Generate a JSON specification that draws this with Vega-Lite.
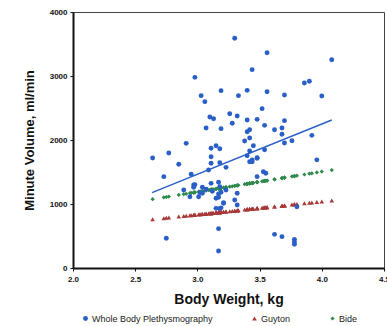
{
  "$schema": "https://vega.github.io/schema/vega-lite/v6.json",
  "width": 311,
  "height": 256,
  "autosize": {"type": "none"},
  "padding": {"left": 73, "top": 12, "right": 3, "bottom": 58},
  "background": "white",
  "config": {
    "font": "Liberation Sans",
    "view": {"stroke": "#444", "strokeWidth": 1},
    "axis": {
      "grid": false,
      "domainColor": "#111",
      "domainWidth": 2,
      "tickColor": "#111",
      "tickSize": 3,
      "labelFont": "Liberation Sans",
      "labelFontWeight": "bold",
      "labelFontSize": 8,
      "labelColor": "#111",
      "titleFont": "Liberation Sans",
      "titleFontWeight": "bold",
      "titleColor": "#111"
    }
  },
  "datasets": {
    "pts": [
      {"w":3.30,"Whole Body Plethysmography":3589,"Guyton":896,"Bide":1284},
      {"w":3.56,"Whole Body Plethysmography":3364,"Guyton":950,"Bide":1366},
      {"w":4.08,"Whole Body Plethysmography":3255,"Guyton":1056,"Bide":1531},
      {"w":2.98,"Whole Body Plethysmography":2979,"Guyton":831,"Bide":1182},
      {"w":3.44,"Whole Body Plethysmography":3099,"Guyton":925,"Bide":1328},
      {"w":3.19,"Whole Body Plethysmography":2771,"Guyton":874,"Bide":1249},
      {"w":3.40,"Whole Body Plethysmography":2776,"Guyton":917,"Bide":1316},
      {"w":3.56,"Whole Body Plethysmography":2755,"Guyton":950,"Bide":1366},
      {"w":3.33,"Whole Body Plethysmography":2693,"Guyton":902,"Bide":1293},
      {"w":3.70,"Whole Body Plethysmography":2703,"Guyton":978,"Bide":1411},
      {"w":3.86,"Whole Body Plethysmography":2890,"Guyton":1011,"Bide":1461},
      {"w":3.90,"Whole Body Plethysmography":2917,"Guyton":1019,"Bide":1474},
      {"w":4.00,"Whole Body Plethysmography":2688,"Guyton":1040,"Bide":1506},
      {"w":3.03,"Whole Body Plethysmography":2693,"Guyton":841,"Bide":1198},
      {"w":3.06,"Whole Body Plethysmography":2599,"Guyton":847,"Bide":1208},
      {"w":3.52,"Whole Body Plethysmography":2490,"Guyton":941,"Bide":1354},
      {"w":3.10,"Whole Body Plethysmography":2359,"Guyton":855,"Bide":1220},
      {"w":3.13,"Whole Body Plethysmography":2333,"Guyton":861,"Bide":1230},
      {"w":3.26,"Whole Body Plethysmography":2411,"Guyton":888,"Bide":1271},
      {"w":3.32,"Whole Body Plethysmography":2375,"Guyton":900,"Bide":1290},
      {"w":3.07,"Whole Body Plethysmography":2188,"Guyton":849,"Bide":1211},
      {"w":3.19,"Whole Body Plethysmography":2177,"Guyton":874,"Bide":1249},
      {"w":3.28,"Whole Body Plethysmography":2261,"Guyton":892,"Bide":1277},
      {"w":3.40,"Whole Body Plethysmography":2313,"Guyton":917,"Bide":1316},
      {"w":3.48,"Whole Body Plethysmography":2323,"Guyton":933,"Bide":1341},
      {"w":3.54,"Whole Body Plethysmography":2229,"Guyton":946,"Bide":1360},
      {"w":3.62,"Whole Body Plethysmography":2161,"Guyton":962,"Bide":1385},
      {"w":3.68,"Whole Body Plethysmography":2188,"Guyton":974,"Bide":1404},
      {"w":3.70,"Whole Body Plethysmography":2302,"Guyton":978,"Bide":1411},
      {"w":3.40,"Whole Body Plethysmography":2130,"Guyton":917,"Bide":1316},
      {"w":3.42,"Whole Body Plethysmography":2161,"Guyton":921,"Bide":1322},
      {"w":3.42,"Whole Body Plethysmography":2031,"Guyton":921,"Bide":1322},
      {"w":3.38,"Whole Body Plethysmography":1984,"Guyton":913,"Bide":1309},
      {"w":3.68,"Whole Body Plethysmography":2089,"Guyton":974,"Bide":1404},
      {"w":3.70,"Whole Body Plethysmography":1953,"Guyton":978,"Bide":1411},
      {"w":3.76,"Whole Body Plethysmography":1989,"Guyton":991,"Bide":1430},
      {"w":3.92,"Whole Body Plethysmography":2073,"Guyton":1023,"Bide":1480},
      {"w":2.91,"Whole Body Plethysmography":1948,"Guyton":816,"Bide":1160},
      {"w":3.11,"Whole Body Plethysmography":1870,"Guyton":857,"Bide":1224},
      {"w":3.15,"Whole Body Plethysmography":1911,"Guyton":866,"Bide":1236},
      {"w":3.18,"Whole Body Plethysmography":1864,"Guyton":872,"Bide":1246},
      {"w":3.45,"Whole Body Plethysmography":1911,"Guyton":927,"Bide":1331},
      {"w":3.54,"Whole Body Plethysmography":1848,"Guyton":946,"Bide":1360},
      {"w":3.42,"Whole Body Plethysmography":1828,"Guyton":921,"Bide":1322},
      {"w":3.11,"Whole Body Plethysmography":1739,"Guyton":857,"Bide":1224},
      {"w":3.40,"Whole Body Plethysmography":1755,"Guyton":917,"Bide":1316},
      {"w":3.48,"Whole Body Plethysmography":1723,"Guyton":933,"Bide":1341},
      {"w":3.96,"Whole Body Plethysmography":1690,"Guyton":1032,"Bide":1493},
      {"w":2.77,"Whole Body Plethysmography":1797,"Guyton":788,"Bide":1116},
      {"w":2.64,"Whole Body Plethysmography":1719,"Guyton":761,"Bide":1075},
      {"w":2.85,"Whole Body Plethysmography":1620,"Guyton":804,"Bide":1141},
      {"w":2.73,"Whole Body Plethysmography":1427,"Guyton":779,"Bide":1103},
      {"w":2.95,"Whole Body Plethysmography":1464,"Guyton":825,"Bide":1173},
      {"w":2.89,"Whole Body Plethysmography":1219,"Guyton":812,"Bide":1154},
      {"w":2.98,"Whole Body Plethysmography":1302,"Guyton":831,"Bide":1182},
      {"w":2.94,"Whole Body Plethysmography":1114,"Guyton":823,"Bide":1170},
      {"w":2.75,"Whole Body Plethysmography":464,"Guyton":784,"Bide":1109},
      {"w":3.62,"Whole Body Plethysmography":526,"Guyton":962,"Bide":1385},
      {"w":3.68,"Whole Body Plethysmography":490,"Guyton":974,"Bide":1404},
      {"w":3.78,"Whole Body Plethysmography":448,"Guyton":995,"Bide":1436},
      {"w":3.78,"Whole Body Plethysmography":406,"Guyton":995,"Bide":1436},
      {"w":3.78,"Whole Body Plethysmography":370,"Guyton":995,"Bide":1436},
      {"w":3.17,"Whole Body Plethysmography":615,"Guyton":870,"Bide":1243},
      {"w":3.17,"Whole Body Plethysmography":266,"Guyton":870,"Bide":1243},
      {"w":3.80,"Whole Body Plethysmography":958,"Guyton":999,"Bide":1442},
      {"w":3.11,"Whole Body Plethysmography":1636,"Guyton":857,"Bide":1224},
      {"w":3.18,"Whole Body Plethysmography":1646,"Guyton":872,"Bide":1246},
      {"w":3.23,"Whole Body Plethysmography":1573,"Guyton":882,"Bide":1262},
      {"w":3.42,"Whole Body Plethysmography":1661,"Guyton":921,"Bide":1322},
      {"w":3.44,"Whole Body Plethysmography":1661,"Guyton":925,"Bide":1328},
      {"w":3.48,"Whole Body Plethysmography":1427,"Guyton":933,"Bide":1341},
      {"w":3.53,"Whole Body Plethysmography":1505,"Guyton":943,"Bide":1357},
      {"w":3.55,"Whole Body Plethysmography":1480,"Guyton":948,"Bide":1363},
      {"w":2.97,"Whole Body Plethysmography":1297,"Guyton":829,"Bide":1179},
      {"w":2.97,"Whole Body Plethysmography":1261,"Guyton":829,"Bide":1179},
      {"w":3.04,"Whole Body Plethysmography":1261,"Guyton":843,"Bide":1201},
      {"w":3.02,"Whole Body Plethysmography":1177,"Guyton":839,"Bide":1195},
      {"w":3.04,"Whole Body Plethysmography":1167,"Guyton":843,"Bide":1201},
      {"w":3.01,"Whole Body Plethysmography":1114,"Guyton":837,"Bide":1192},
      {"w":3.11,"Whole Body Plethysmography":1323,"Guyton":857,"Bide":1224},
      {"w":3.17,"Whole Body Plethysmography":1339,"Guyton":870,"Bide":1243},
      {"w":3.18,"Whole Body Plethysmography":1270,"Guyton":872,"Bide":1246},
      {"w":3.19,"Whole Body Plethysmography":1183,"Guyton":874,"Bide":1249},
      {"w":3.17,"Whole Body Plethysmography":1156,"Guyton":870,"Bide":1243},
      {"w":3.23,"Whole Body Plethysmography":1218,"Guyton":882,"Bide":1262},
      {"w":3.32,"Whole Body Plethysmography":1167,"Guyton":900,"Bide":1290},
      {"w":3.30,"Whole Body Plethysmography":1062,"Guyton":896,"Bide":1284},
      {"w":3.32,"Whole Body Plethysmography":984,"Guyton":900,"Bide":1290},
      {"w":3.21,"Whole Body Plethysmography":1020,"Guyton":878,"Bide":1255},
      {"w":3.15,"Whole Body Plethysmography":1089,"Guyton":866,"Bide":1236},
      {"w":3.15,"Whole Body Plethysmography":932,"Guyton":866,"Bide":1236},
      {"w":3.18,"Whole Body Plethysmography":932,"Guyton":872,"Bide":1246},
      {"w":3.19,"Whole Body Plethysmography":940,"Guyton":874,"Bide":1249},
      {"w":3.09,"Whole Body Plethysmography":1531,"Guyton":853,"Bide":1217},
      {"w":3.21,"Whole Body Plethysmography":1010,"Guyton":878,"Bide":1255},
      {"w":3.17,"Whole Body Plethysmography":1105,"Guyton":870,"Bide":1243},
      {"w":3.44,"Whole Body Plethysmography":1688,"Guyton":925,"Bide":1328},
      {"w":3.48,"Whole Body Plethysmography":1714,"Guyton":933,"Bide":1341},
      {"w":3.07,"Whole Body Plethysmography":1230,"Guyton":849,"Bide":1211},
      {"w":3.12,"Whole Body Plethysmography":1200,"Guyton":859,"Bide":1227}
    ],
    "fit": [
      {"w": 2.635, "mv": 1177},
      {"w": 4.08, "mv": 2313}
    ]
  },
  "layer": [
    {
      "data": {"name": "pts"},
      "transform": [
        {"fold": ["Whole Body Plethysmography", "Guyton", "Bide"], "as": ["series", "mv"]}
      ],
      "mark": {"type": "point", "filled": true, "opacity": 1},
      "encoding": {
        "x": {
          "field": "w", "type": "quantitative",
          "scale": {"domain": [2, 4.5], "nice": false, "zero": false},
          "axis": {"values": [2, 2.5, 3, 3.5, 4, 4.5], "title": "Body Weight, kg", "titleFontSize": 14, "titlePadding": 9, "labelFlush": false, "labelPadding": 4}
        },
        "y": {
          "field": "mv", "type": "quantitative",
          "scale": {"domain": [0, 4000], "nice": false},
          "axis": {"values": [0, 1000, 2000, 3000, 4000], "format": "d", "title": "Minute Volume, ml/min", "titleFontSize": 13, "titlePadding": 13, "labelPadding": 3}
        },
        "color": {
          "field": "series", "type": "nominal",
          "scale": {"domain": ["Whole Body Plethysmography", "Guyton", "Bide"], "range": ["#2a5fc8", "#a83838", "#2e8a4c"]},
          "legend": {
            "title": null, "orient": "none", "direction": "horizontal", "columns": 3, "gridAlign": "none",
            "legendX": 8, "legendY": 302, "columnPadding": 37,
            "labelFont": "Liberation Sans", "labelFontSize": 9, "labelColor": "#222",
            "symbolSize": 16, "labelOffset": 2, "labelLimit": 200
          }
        },
        "shape": {
          "field": "series", "type": "nominal",
          "scale": {"domain": ["Whole Body Plethysmography", "Guyton", "Bide"], "range": ["circle", "triangle-up", "diamond"]},
          "legend": {
            "title": null, "orient": "none", "direction": "horizontal", "columns": 3, "gridAlign": "none",
            "legendX": 8, "legendY": 302, "columnPadding": 37,
            "labelFont": "Liberation Sans", "labelFontSize": 9, "labelColor": "#222",
            "symbolSize": 16, "labelOffset": 2, "labelLimit": 200
          }
        },
        "size": {
          "field": "series", "type": "nominal",
          "scale": {"domain": ["Whole Body Plethysmography", "Guyton", "Bide"], "range": [24, 18, 12]},
          "legend": null
        },
        "order": {"field": "series", "sort": "ascending"}
      }
    },
    {
      "data": {"name": "fit"},
      "mark": {"type": "line", "color": "#2a5fc8", "strokeWidth": 1.5},
      "encoding": {
        "x": {"field": "w", "type": "quantitative"},
        "y": {"field": "mv", "type": "quantitative"}
      }
    }
  ]
}
